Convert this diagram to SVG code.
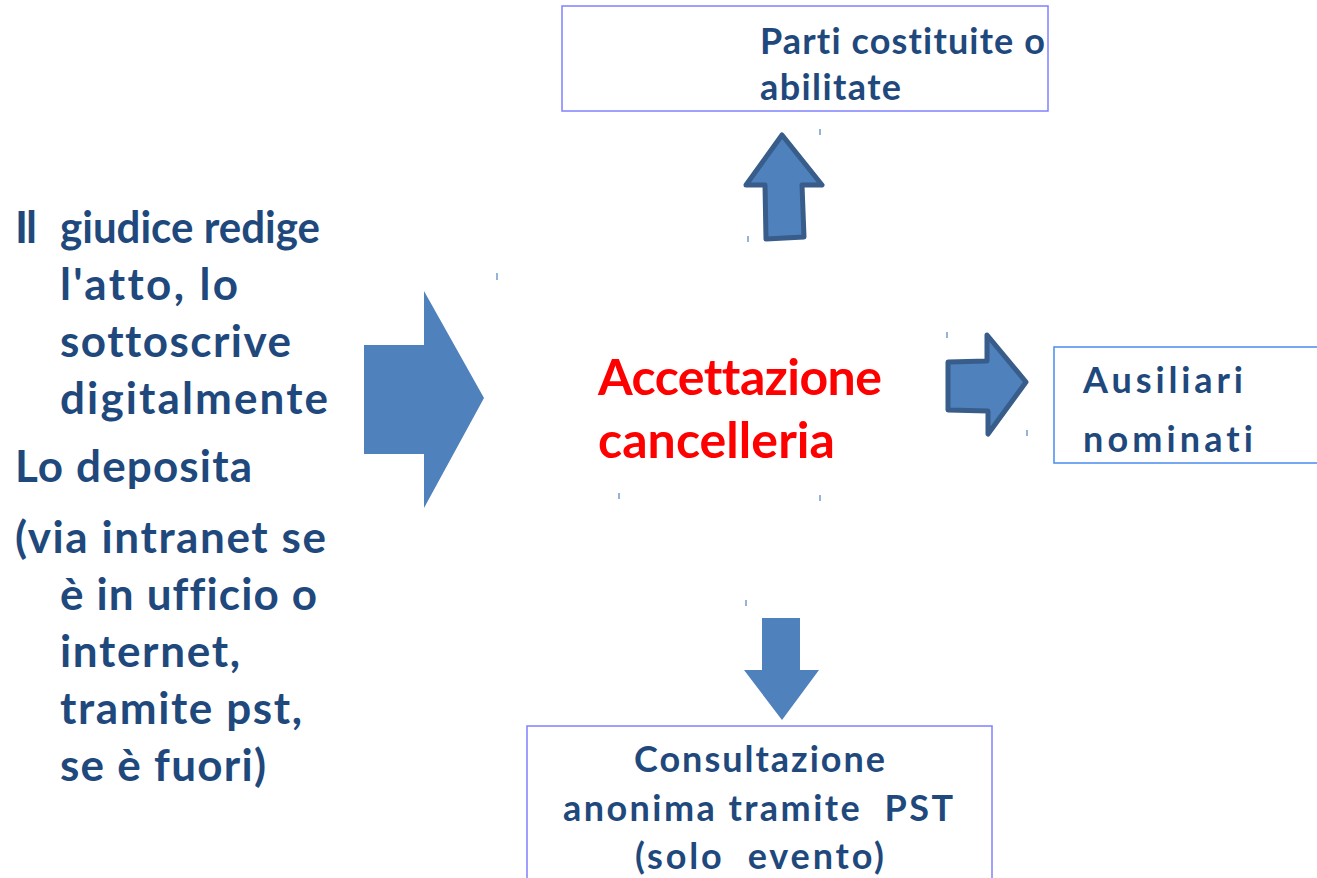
<svg xmlns="http://www.w3.org/2000/svg" width="1317" height="878" viewBox="0 0 1317 878">
<style>
.t{font-family:Lato,"Liberation Sans",sans-serif;font-weight:bold;fill:#1F497D;font-variant-ligatures:none}
.L{font-size:44px}
.B{font-size:36px}
.red{font-family:Lato,"Liberation Sans",sans-serif;font-weight:bold;fill:#FF0000;font-size:50px;font-variant-ligatures:none}
.box{fill:#FFFFFF;stroke:#8080FF;stroke-width:1.5}
.arr{fill:#4F81BD}
.arrs{fill:#4F81BD;stroke:#385D8A;stroke-width:5;stroke-linejoin:round}
.tick{stroke:#4F81BD;stroke-width:1.2}
</style>
<rect width="1317" height="878" fill="#FFFFFF"/>
<g id="source-text">
<text class="t L" x="15" y="243" textLength="22">Il</text>
<text class="t L" x="60" y="243" textLength="260" lengthAdjust="spacingAndGlyphs">giudice redige</text>
<text class="t L" x="60" y="300" textLength="178">l'atto, lo</text>
<text class="t L" x="60" y="357" textLength="231">sottoscrive</text>
<text class="t L" x="60" y="414" textLength="268">digitalmente</text>
<text class="t L" x="15" y="482" textLength="237">Lo deposita</text>
<text class="t L" x="15" y="553" textLength="311">(via intranet se</text>
<text class="t L" x="60" y="610" textLength="257">è in ufficio o</text>
<text class="t L" x="60" y="667" textLength="180">internet,</text>
<text class="t L" x="60" y="724" textLength="242">tramite pst,</text>
<text class="t L" x="60" y="781" textLength="206">se è fuori)</text>
</g>
<g id="center">
<text class="red" x="598" y="395" textLength="284">Accettazione</text>
<text class="red" x="598" y="458" textLength="237">cancelleria</text>
</g>
<g id="node-parti">
<rect class="box" x="562" y="6" width="486" height="105"/>
<text class="t B" x="760" y="54" textLength="285">Parti costituite o</text>
<text class="t B" x="760" y="100" textLength="141">abilitate</text>
</g>
<g id="node-ausiliari">
<rect x="1054" y="347" width="270" height="116" fill="#FFFFFF" stroke="#4A8AF0" stroke-width="1.5"/>
<text class="t B" x="1083" y="393" textLength="160">Ausiliari</text>
<text class="t B" x="1083" y="452" textLength="170">nominati</text>
</g>
<g id="node-consultazione">
<rect class="box" x="527" y="726" width="465" height="160"/>
<text class="t B" x="634" y="772" textLength="251">Consultazione</text>
<text class="t B" x="563" y="821" textLength="390" xml:space="preserve">anonima tramite  PST</text>
<text class="t B" x="635" y="869" textLength="249" xml:space="preserve">(solo  evento)</text>
</g>
<g id="connectors">
<polygon class="arr" points="364,345 424,345 424,291 484,398 424,508 424,454 364,454"/>
<polygon class="arrs" points="782,135 822,185 802,185 804,237 766,239 765,185 746,185"/>
<polygon class="arrs" points="948,362 987,361 987,335 1026,382 988,434 988,411 948,410"/>
<polygon class="arr" points="762,618 800,618 800,670 819,670 782,720 744,670 762,670"/>
</g>
<g id="ticks">
<line class="tick" x1="497" y1="273" x2="497" y2="280"/>
<line class="tick" x1="820" y1="129" x2="820" y2="135"/>
<line class="tick" x1="748" y1="236" x2="748" y2="242"/>
<line class="tick" x1="947" y1="332" x2="947" y2="338"/>
<line class="tick" x1="1027" y1="430" x2="1027" y2="436"/>
<line class="tick" x1="746" y1="600" x2="746" y2="606"/>
<line class="tick" x1="619" y1="493" x2="619" y2="499"/>
<line class="tick" x1="820" y1="495" x2="820" y2="501"/>
</g>
</svg>
